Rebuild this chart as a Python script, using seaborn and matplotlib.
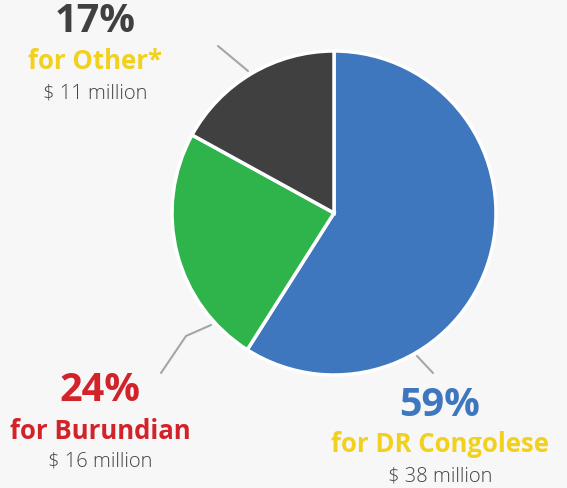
import seaborn as sns
import matplotlib.pyplot as plt

# data
groups = ["DR Congolese", "Burundian", "Other*"]
shares = [59, 24, 17]
amounts = [38, 16, 11]
slice_colors = ["#3f77bf", "#2fb34b", "#404040"]
pct_colors = ["#3f77bf", "#d2232a", "#404040"]
name_colors = ["#f2d01e", "#d2232a", "#f2d01e"]

sns.set_theme(style="white")
plt.rcParams["font.family"] = ["Open Sans", "DejaVu Sans"]

bg = "#f7f7f7"
fig = plt.figure(figsize=(5.67, 4.89), dpi=100, facecolor=bg)
ax = fig.add_axes([0, 0, 1, 1])
ax.set_facecolor(bg)

H = 489
ax.pie(shares, colors=slice_colors, startangle=90, counterclock=False,
       center=(334, H - 214), radius=162,
       wedgeprops=dict(edgecolor="white", linewidth=2.5))
ax.set_xlim(0, 567)
ax.set_ylim(0, H)
ax.set_aspect("equal")
ax.axis("off")

# leader lines (pixel coords)
leaders = [
    [(417, 357), (433, 374)],
    [(161, 374), (186, 337), (211, 326)],
    [(218, 47), (248, 72)],
]
for pts in leaders:
    xs = [p[0] for p in pts]
    ys = [H - p[1] for p in pts]
    ax.plot(xs, ys, color="#a6a6a6", lw=1.5)

# label blocks: (x center, y of pct, y of name, y of amount)
spots = [(440, 406, 445, 477), (100, 391, 432, 462), (95, 22, 62, 94)]
for i, (x, y1, y2, y3) in enumerate(spots):
    ax.text(x, H - y1, f"{shares[i]}%", ha="center", va="center",
            fontsize=28.5, fontweight="bold", color=pct_colors[i])
    ax.text(x, H - y2, f"for {groups[i]}", ha="center", va="center",
            fontsize=18.5, fontweight="bold", color=name_colors[i])
    ax.text(x, H - y3, f"$ {amounts[i]} million", ha="center", va="center",
            fontsize=14.5, fontweight="light", color="#444444")

fig.savefig("out.png", dpi=100, facecolor=bg)
